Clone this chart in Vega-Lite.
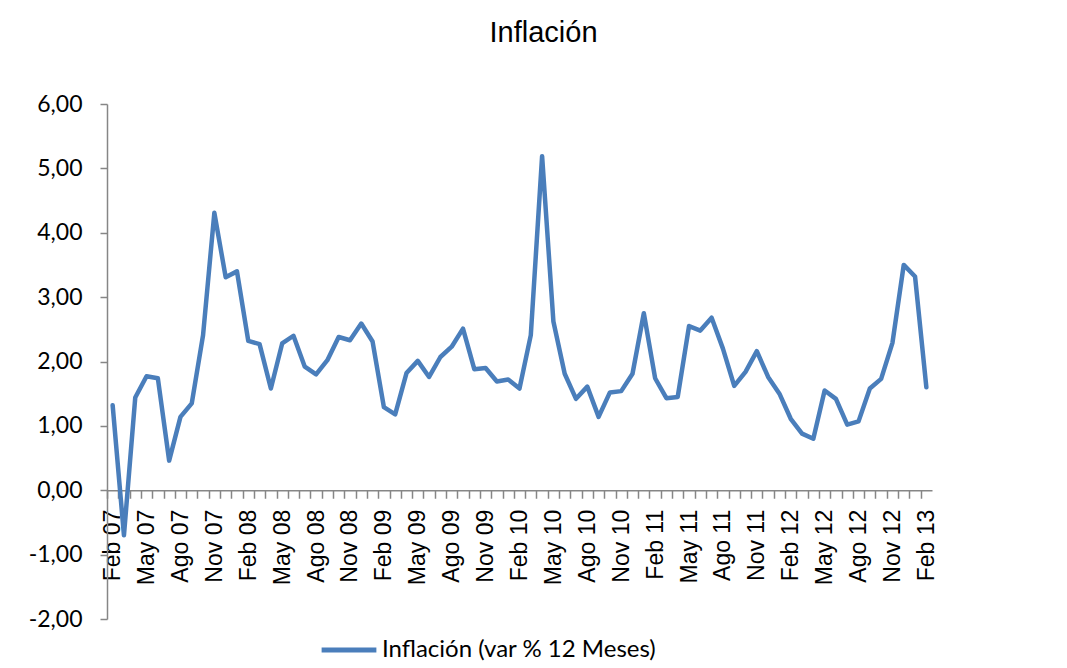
{
  "$schema": "https://vega.github.io/schema/vega-lite/v6.json",
  "autosize": "none",
  "width": 825,
  "height": 515,
  "padding": {"left": 107, "top": 104, "right": 135, "bottom": 49},
  "background": "white",
  "title": {
    "text": "Inflación",
    "font": "Liberation Sans Narrow, Liberation Sans",
    "fontSize": 29,
    "fontWeight": "normal",
    "color": "#000000",
    "anchor": "middle",
    "dx": 24,
    "offset": 45
  },
  "data": {
    "values": [
      {"mes": "Feb 07", "valor": 1.32},
      {"mes": "Mar 07", "valor": -0.70},
      {"mes": "Abr 07", "valor": 1.44},
      {"mes": "May 07", "valor": 1.77},
      {"mes": "Jun 07", "valor": 1.74},
      {"mes": "Jul 07", "valor": 0.46},
      {"mes": "Ago 07", "valor": 1.14},
      {"mes": "Sep 07", "valor": 1.35},
      {"mes": "Oct 07", "valor": 2.41},
      {"mes": "Nov 07", "valor": 4.31},
      {"mes": "Dic 07", "valor": 3.31},
      {"mes": "Ene 08", "valor": 3.40},
      {"mes": "Feb 08", "valor": 2.32},
      {"mes": "Mar 08", "valor": 2.27},
      {"mes": "Abr 08", "valor": 1.58},
      {"mes": "May 08", "valor": 2.28},
      {"mes": "Jun 08", "valor": 2.40},
      {"mes": "Jul 08", "valor": 1.92},
      {"mes": "Ago 08", "valor": 1.80},
      {"mes": "Sep 08", "valor": 2.02},
      {"mes": "Oct 08", "valor": 2.38},
      {"mes": "Nov 08", "valor": 2.33},
      {"mes": "Dic 08", "valor": 2.59},
      {"mes": "Ene 09", "valor": 2.31},
      {"mes": "Feb 09", "valor": 1.29},
      {"mes": "Mar 09", "valor": 1.18},
      {"mes": "Abr 09", "valor": 1.82},
      {"mes": "May 09", "valor": 2.01},
      {"mes": "Jun 09", "valor": 1.76},
      {"mes": "Jul 09", "valor": 2.07},
      {"mes": "Ago 09", "valor": 2.23},
      {"mes": "Sep 09", "valor": 2.51},
      {"mes": "Oct 09", "valor": 1.88},
      {"mes": "Nov 09", "valor": 1.90},
      {"mes": "Dic 09", "valor": 1.69},
      {"mes": "Ene 10", "valor": 1.72},
      {"mes": "Feb 10", "valor": 1.58},
      {"mes": "Mar 10", "valor": 2.41},
      {"mes": "Abr 10", "valor": 5.19},
      {"mes": "May 10", "valor": 2.62},
      {"mes": "Jun 10", "valor": 1.81},
      {"mes": "Jul 10", "valor": 1.42},
      {"mes": "Ago 10", "valor": 1.61},
      {"mes": "Sep 10", "valor": 1.14},
      {"mes": "Oct 10", "valor": 1.52},
      {"mes": "Nov 10", "valor": 1.54},
      {"mes": "Dic 10", "valor": 1.81},
      {"mes": "Ene 11", "valor": 2.75},
      {"mes": "Feb 11", "valor": 1.74},
      {"mes": "Mar 11", "valor": 1.43},
      {"mes": "Abr 11", "valor": 1.45},
      {"mes": "May 11", "valor": 2.55},
      {"mes": "Jun 11", "valor": 2.48},
      {"mes": "Jul 11", "valor": 2.68},
      {"mes": "Ago 11", "valor": 2.20},
      {"mes": "Sep 11", "valor": 1.62},
      {"mes": "Oct 11", "valor": 1.84},
      {"mes": "Nov 11", "valor": 2.16},
      {"mes": "Dic 11", "valor": 1.76},
      {"mes": "Ene 12", "valor": 1.50},
      {"mes": "Feb 12", "valor": 1.11},
      {"mes": "Mar 12", "valor": 0.88},
      {"mes": "Abr 12", "valor": 0.80},
      {"mes": "May 12", "valor": 1.55},
      {"mes": "Jun 12", "valor": 1.42},
      {"mes": "Jul 12", "valor": 1.02},
      {"mes": "Ago 12", "valor": 1.07},
      {"mes": "Sep 12", "valor": 1.58},
      {"mes": "Oct 12", "valor": 1.73},
      {"mes": "Nov 12", "valor": 2.29},
      {"mes": "Dic 12", "valor": 3.50},
      {"mes": "Ene 13", "valor": 3.32},
      {"mes": "Feb 13", "valor": 1.60}
    ]
  },
  "mark": {"type": "line", "strokeWidth": 4.5, "strokeJoin": "round", "strokeCap": "round"},
  "encoding": {
    "x": {
      "field": "mes",
      "type": "ordinal",
      "sort": null,
      "scale": {"type": "point", "padding": 0.5},
      "axis": {
        "title": null,
        "offset": -128.75,
        "domainColor": "#868686",
        "domainWidth": 1.5,
        "tickColor": "#868686",
        "tickWidth": 1.5,
        "tickSize": 8,
        "tickOffset": -5.65,
        "labelOffset": 5.65,
        "labelAngle": -90,
        "labelPadding": 11,
        "labelFont": "Liberation Sans",
        "labelFontSize": 23,
        "labelColor": "#000000",
        "labelOverlap": false,
        "labelBound": false,
        "labelFlush": false,
        "labelExpr": "indexof(['Feb','May','Ago','Nov'], slice(datum.label,0,3)) >= 0 ? datum.label : ''"
      }
    },
    "y": {
      "field": "valor",
      "type": "quantitative",
      "scale": {"domain": [-2, 6], "nice": false, "zero": false},
      "axis": {
        "title": null,
        "values": [-2, -1, 0, 1, 2, 3, 4, 5, 6],
        "grid": false,
        "domainColor": "#868686",
        "domainWidth": 1.5,
        "tickColor": "#868686",
        "tickWidth": 1.5,
        "tickSize": 7,
        "labelPadding": 18,
        "labelFont": "Lato",
        "labelFontSize": 23,
        "labelColor": "#000000",
        "labelExpr": "(datum.value < 0 ? '-' : '') + replace(format(abs(datum.value), '.2f'), '.', ',')"
      }
    },
    "color": {
      "datum": "Inflación (var % 12 Meses)",
      "type": "nominal",
      "scale": {"range": ["#4a7ebb"]},
      "legend": {
        "title": null,
        "orient": "none",
        "legendX": 212,
        "legendY": 516,
        "symbolType": "stroke",
        "symbolSize": 3000,
        "symbolStrokeWidth": 5,
        "labelFont": "Lato",
        "labelFontSize": 24,
        "labelColor": "#000000",
        "labelOffset": 3,
        "labelLimit": 500
      }
    }
  },
  "config": {
    "view": {"stroke": null}
  }
}
